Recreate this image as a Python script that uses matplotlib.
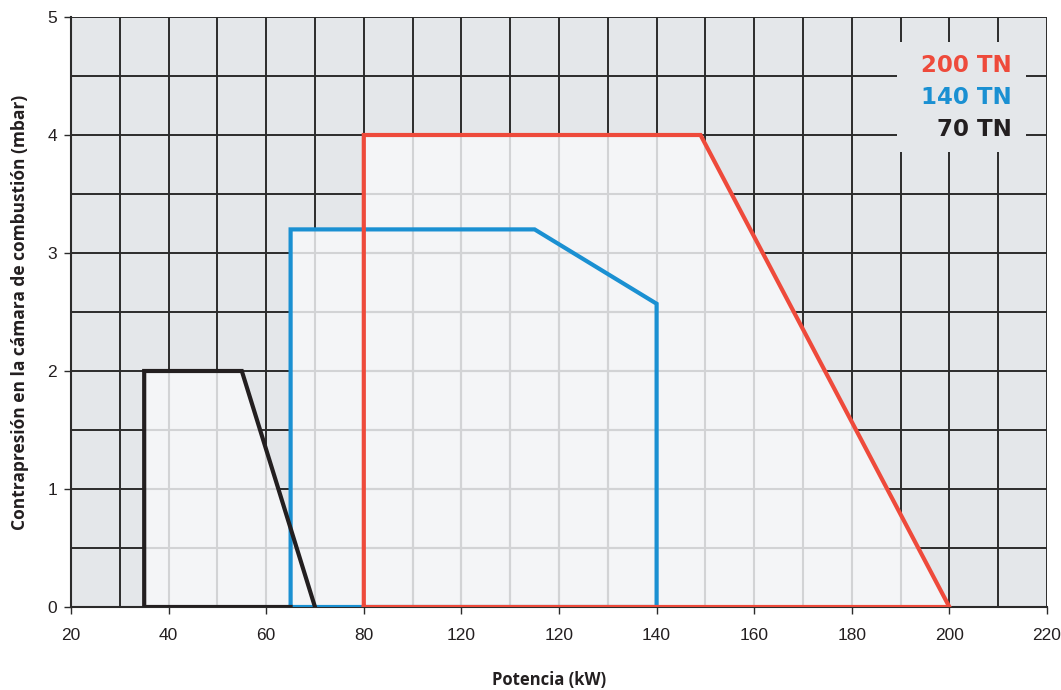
import matplotlib
matplotlib.use("Agg")
import matplotlib.pyplot as plt
from matplotlib.patches import Polygon, Rectangle
import numpy as np

plt.rcParams['font.family'] = ['Liberation Sans', 'DejaVu Sans']

# Data
series_names = ["200 TN", "140 TN", "70 TN"]
x_70 = [35, 35, 55, 70]
y_70 = [0, 2, 2, 0]
x_140 = [65, 65, 115, 140, 140]
y_140 = [0, 3.2, 3.2, 2.57, 0]
x_200 = [80, 80, 149, 200]
y_200 = [0, 4, 4, 0]
x_ticks = [20, 40, 60, 80, 100, 120, 140, 160, 180, 200, 220]
x_ticklabels = ["20", "40", "60", "80", "120", "120", "140", "160", "180", "200", "220"]
y_ticks = [0, 1, 2, 3, 4, 5]
y_ticklabels = ["0", "1", "2", "3", "4", "5"]

c_red = "#ee4a3b"
c_blue = "#1a90d2"
c_black = "#231f20"
bg = "#e4e7ea"
fill = "#f4f5f7"
dark_grid = "#2b2b2b"
light_grid = "#d2d3d5"

fig = plt.figure(figsize=(10.61, 6.90), dpi=100)
ax = fig.add_axes([71/1061, 1-607/690, (1047-71)/1061, (607-17)/690])
ax.set_xlim(20, 220)
ax.set_ylim(0, 5)
ax.set_facecolor(bg)

gx = np.arange(20, 221, 10)
gy = np.arange(0, 5.01, 0.5)
ax.vlines(gx, 0, 5, colors=dark_grid, linewidth=1.4, zorder=1)
ax.hlines(gy, 20, 220, colors=dark_grid, linewidth=1.4, zorder=1)

# legend box covering grid
fig.patches.append(Rectangle((897/1061, 1-152/690), (1026-897)/1061, (152-42)/690,
                             transform=fig.transFigure, facecolor=bg, edgecolor='none', zorder=2))

polys = []
for xs, ys in [(x_70, y_70), (x_140, y_140), (x_200, y_200)]:
    p = Polygon(np.column_stack([xs, ys]), closed=True, facecolor=fill, edgecolor='none', zorder=2)
    ax.add_patch(p)
    polys.append(p)

for p in polys:
    v = ax.vlines(gx, 0, 5, colors=light_grid, linewidth=1.5, zorder=3)
    h = ax.hlines(gy, 20, 220, colors=light_grid, linewidth=1.5, zorder=3)
    v.set_clip_path(p)
    h.set_clip_path(p)

lw = 3.0
ax.plot(x_140 + [x_140[0]], y_140 + [y_140[0]], color=c_blue, lw=lw, zorder=5, solid_joinstyle='miter')
ax.plot([65] + x_70, [0] + y_70, color=c_black, lw=lw, zorder=6, solid_joinstyle='miter')
ax.plot(x_200 + [x_200[0]], y_200 + [y_200[0]], color=c_red, lw=lw, zorder=7, solid_joinstyle='miter')

for s in ax.spines.values():
    s.set_visible(False)
for k in ('left', 'bottom'):
    ax.spines[k].set_visible(True)
    ax.spines[k].set_color(dark_grid)
    ax.spines[k].set_linewidth(1.5)
    ax.spines[k].set_zorder(4)

ax.set_xticks(x_ticks)
ax.set_xticklabels(x_ticklabels)
ax.set_yticks(y_ticks)
ax.set_yticklabels(y_ticklabels)
ax.tick_params(axis='both', direction='out', length=5, width=1, color=dark_grid,
               labelsize=12.5, labelcolor="#231f20")
ax.tick_params(axis='x', pad=10)
ax.tick_params(axis='y', pad=5)

ax.set_xlabel("Potencia (kW)", fontsize=12, fontweight='bold', color="#231f20",
              family=['Open Sans', 'DejaVu Sans'])
ax.xaxis.set_label_coords((549-71)/976, -(680-607)/590)
ax.xaxis.label.set_va('center')
ax.set_ylabel("Contrapresión en la cámara de combustión (mbar)", fontsize=12.5,
              fontweight='bold', labelpad=13, color="#231f20", family=['Open Sans', 'DejaVu Sans'])

for i, (name, col) in enumerate(zip(series_names, [c_red, c_blue, c_black])):
    fig.text(1012/1061, 1-(66 + i*32)/690, name, color=col, fontsize=16.5, fontweight='bold',
             ha='right', va='center', zorder=10, family=['DejaVu Sans'])

fig.savefig("out.png", dpi=100, facecolor='white')
